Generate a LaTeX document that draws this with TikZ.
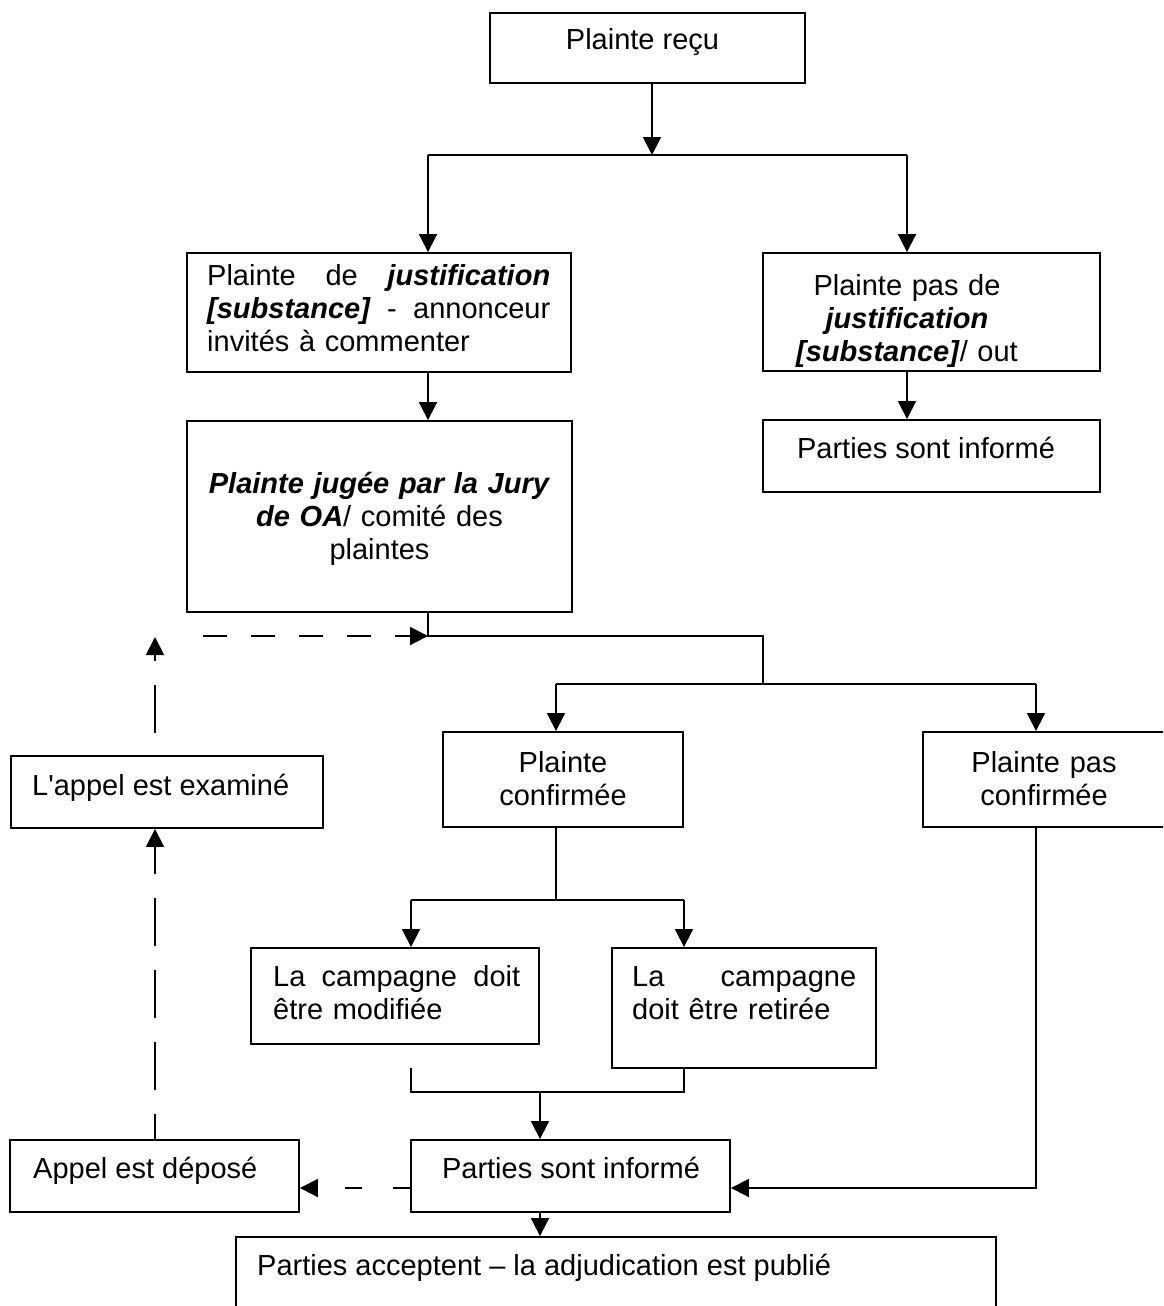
\documentclass[tikz,border=0pt]{standalone}
\usepackage{fontspec}
\setmainfont{Liberation Sans}[Ligatures=TeXOff]
\usetikzlibrary{arrows.meta}
\begin{document}
\begin{tikzpicture}[x=1pt,y=-1pt,
  box/.style={draw, line width=1.9pt, rectangle, inner sep=0pt},
  txt/.style={inner sep=0pt, font=\fontsize{29}{33}\selectfont},
  ln/.style={line width=1.9pt},
  arr/.style={line width=1.9pt, -{Triangle[length=18pt,width=18pt]}},
  dashH/.style={dash pattern=on 24pt off 24pt},
  dashV/.style={dash pattern=on 48pt off 24pt},
  dashB/.style={dash pattern=on 17pt off 31pt}]
\useasboundingbox (0,0) rectangle (1163,1306);
\clip (0,0) rectangle (1163,1306);

% boxes
\node[box, minimum width=315pt, minimum height=70pt] (recu) at (647.5,48) {};
\node[box, minimum width=384pt, minimum height=119pt] (just) at (379,312.5) {};
\node[box, minimum width=337pt, minimum height=118pt] (pasjust) at (931.5,312) {};
\node[box, minimum width=385pt, minimum height=191pt] (jury) at (379.5,516.5) {};
\node[box, minimum width=337pt, minimum height=72pt] (inf1) at (931.5,456) {};
\node[box, minimum width=312pt, minimum height=72pt] (exam) at (167,792) {};
\node[box, minimum width=240pt, minimum height=95pt] (conf) at (563,779.5) {};
\node[box, minimum width=257pt, minimum height=95pt] (pasconf) at (1051.5,779.5) {};
\node[box, minimum width=288pt, minimum height=96pt] (modif) at (395,996) {};
\node[box, minimum width=264pt, minimum height=120pt] (retir) at (744,1008) {};
\node[box, minimum width=319pt, minimum height=72pt] (inf2) at (570.5,1176) {};
\node[box, minimum width=289pt, minimum height=72pt] (depose) at (154.5,1176) {};
\node[box, minimum width=760pt, minimum height=163pt] (accept) at (616,1318.5) {};

% texts
\node[txt, anchor=base] (recu-t) at (642.5,50) {Plainte reçu};
\node[txt, anchor=base west, text width=343pt, align=left] (just-t) at (207,285)
  {Plainte\hfill de\hfill\textbf{\textit{justification}}\\
   \textbf{\textit{[substance]}}\hfill-\hfill annonceur\\
   invités à commenter};
\node[txt, anchor=base, text width=300pt, align=center] (pasjust-t) at (907,295)
  {Plainte pas de\\\textbf{\textit{justification}}\\\textbf{\textit{[substance]}}/ out};
\node[txt, anchor=base, text width=370pt, align=center] (jury-t) at (379.5,493)
  {\textbf{\textit{Plainte jugée par la Jury}}\\\textbf{\textit{de OA}}/ comité des\\plaintes};
\node[txt, anchor=base] (inf1-t) at (926,458) {Parties sont informé};
\node[txt, anchor=base west] (exam-t) at (32,795) {L'appel est examiné};
\node[txt, anchor=base, text width=220pt, align=center] (conf-t) at (563,772) {Plainte\\confirmée};
\node[txt, anchor=base, text width=220pt, align=center] (pasconf-t) at (1044,772) {Plainte pas\\confirmée};
\node[txt, anchor=base west, text width=247pt, align=left] (modif-t) at (273,986)
  {La\hfill campagne\hfill doit\\être modifiée};
\node[txt, anchor=base west, text width=224pt, align=left] (retir-t) at (632,986)
  {La\hfill campagne\\doit être retirée};
\node[txt, anchor=base] (inf2-t) at (571,1178) {Parties sont informé};
\node[txt, anchor=base west] (depose-t) at (33,1178) {Appel est déposé};
\node[txt, anchor=base west] (accept-t) at (257,1275) {Parties acceptent – la adjudication est publié};

% junction points
\coordinate (b0) at (652,155);
\coordinate (j1) at (428,155);
\coordinate (j2) at (907,155);
\coordinate (k1) at (428,636);
\coordinate (k2) at (763,636);
\coordinate (k3) at (763,684);
\coordinate (k4) at (556,684);
\coordinate (k5) at (1036,684);
\coordinate (d1) at (203,636);
\coordinate (v1) at (155,637);
\coordinate (m0) at (556,900);
\coordinate (m1) at (411,900);
\coordinate (m2) at (684,900);
\coordinate (n1) at (411,1068);
\coordinate (n2) at (411,1092);
\coordinate (n3) at (684,1092);
\coordinate (n4) at (540,1092);
\coordinate (p1) at (1036,1188);

% connectors
\draw[arr] (recu.south -| b0) -- (b0);
\draw[ln] (j1) -- (j2);
\draw[arr] (j1) -- (j1 |- just.north);
\draw[arr] (j2) -- (j2 |- pasjust.north);
\draw[arr] (just.south -| j1) -- (jury.north -| j1);
\draw[arr] (pasjust.south -| j2) -- (inf1.north -| j2);
\draw[ln] (jury.south -| k1) -- (k1) -- (k2) -- (k3);
\draw[ln] (k4) -- (k5);
\draw[arr] (k4) -- (k4 |- conf.north);
\draw[arr] (k5) -- (k5 |- pasconf.north);
\draw[arr, dashH] (d1) -- (k1);
\draw[arr, dashV, dash phase=23pt] (depose.north -| v1) -- (exam.south -| v1);
\draw[arr, dashV, dash phase=50pt] (exam.north -| v1) -- (v1);
\draw[ln] (conf.south -| m0) -- (m0);
\draw[ln] (m1) -- (m2);
\draw[arr] (m1) -- (m1 |- modif.north);
\draw[arr] (m2) -- (m2 |- retir.north);
\draw[ln] (n1) -- (n2) -- (n3) -- (retir.south -| n3);
\draw[arr] (n4) -- (n4 |- inf2.north);
\draw[arr] (pasconf.south -| p1) -- (p1) -- (p1 -| inf2.east);
\draw[arr, dashB] (p1 -| inf2.west) -- (p1 -| depose.east);
\draw[arr] (inf2.south -| n4) -- (n4 |- accept.north);
\end{tikzpicture}
\end{document}
